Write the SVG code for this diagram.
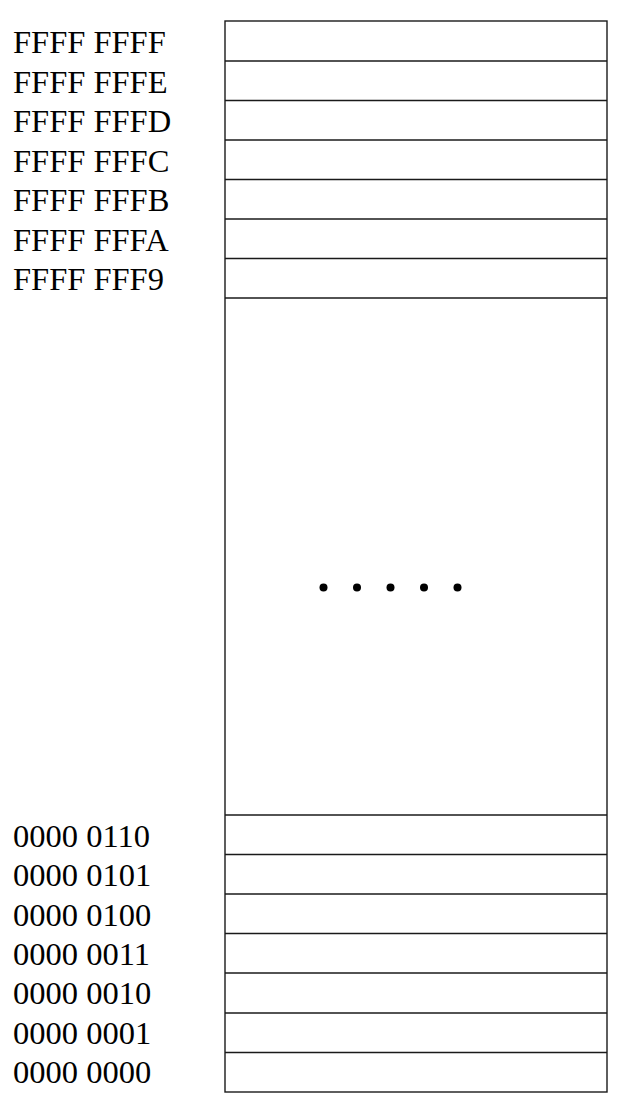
<svg xmlns="http://www.w3.org/2000/svg" width="618" height="1106" viewBox="0 0 618 1106">
<style>
.lbl{font-family:"Liberation Serif","Times New Roman",serif;font-size:32.5px;fill:#000}
.cell{fill:none;stroke:#1a1a1a;stroke-width:1.4}
.dot{fill:#000}
</style>
<rect width="618" height="1106" fill="#fff"/>
<g id="memory">
<rect class="cell" x="225" y="21" width="382" height="1071"/>
<g id="dividers">
<line class="cell" x1="225" y1="61" x2="607" y2="61"/>
<line class="cell" x1="225" y1="100.5" x2="607" y2="100.5"/>
<line class="cell" x1="225" y1="140" x2="607" y2="140"/>
<line class="cell" x1="225" y1="179.5" x2="607" y2="179.5"/>
<line class="cell" x1="225" y1="219" x2="607" y2="219"/>
<line class="cell" x1="225" y1="258.5" x2="607" y2="258.5"/>
<line class="cell" x1="225" y1="298" x2="607" y2="298"/>
<line class="cell" x1="225" y1="815" x2="607" y2="815"/>
<line class="cell" x1="225" y1="854.5" x2="607" y2="854.5"/>
<line class="cell" x1="225" y1="894" x2="607" y2="894"/>
<line class="cell" x1="225" y1="933.5" x2="607" y2="933.5"/>
<line class="cell" x1="225" y1="973" x2="607" y2="973"/>
<line class="cell" x1="225" y1="1013" x2="607" y2="1013"/>
<line class="cell" x1="225" y1="1052.5" x2="607" y2="1052.5"/>
</g>
<g id="ellipsis">
<circle class="dot" cx="323.5" cy="587.5" r="4"/>
<circle class="dot" cx="357" cy="587.5" r="4"/>
<circle class="dot" cx="390.5" cy="587.5" r="4"/>
<circle class="dot" cx="424" cy="587.5" r="4"/>
<circle class="dot" cx="457.5" cy="587.5" r="4"/>
</g>
</g>
<g id="labels">
<text class="lbl" x="13" y="53">FFFF FFFF</text>
<text class="lbl" x="13" y="92.5">FFFF FFFE</text>
<text class="lbl" x="13" y="132">FFFF FFFD</text>
<text class="lbl" x="13" y="171.5">FFFF FFFC</text>
<text class="lbl" x="13" y="211">FFFF FFFB</text>
<text class="lbl" x="13" y="250.5">FFFF FFFA</text>
<text class="lbl" x="13" y="290">FFFF FFF9</text>
<text class="lbl" x="13" y="847">0000 0110</text>
<text class="lbl" x="13" y="886.3">0000 0101</text>
<text class="lbl" x="13" y="925.6">0000 0100</text>
<text class="lbl" x="13" y="965">0000 0011</text>
<text class="lbl" x="13" y="1004.3">0000 0010</text>
<text class="lbl" x="13" y="1043.6">0000 0001</text>
<text class="lbl" x="13" y="1083">0000 0000</text>
</g>
</svg>
